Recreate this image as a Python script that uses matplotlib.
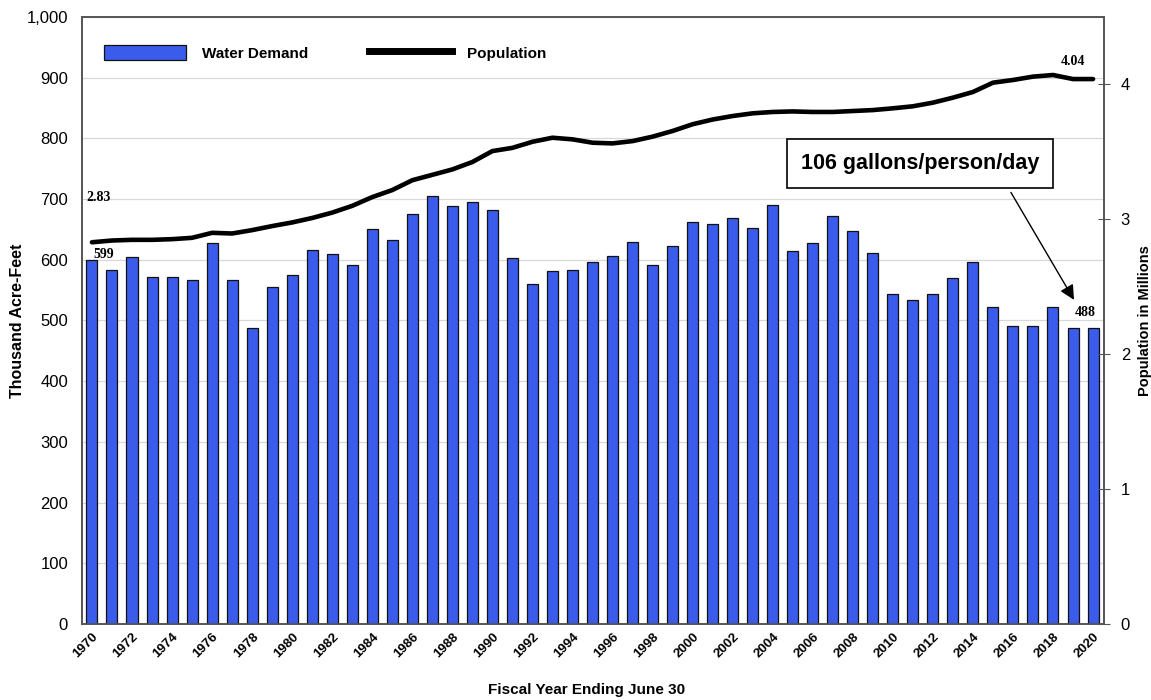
import matplotlib
matplotlib.use("Agg")
import matplotlib.pyplot as plt
import numpy as np
from matplotlib.patches import Patch
from matplotlib.lines import Line2D
from matplotlib.ticker import FuncFormatter, MultipleLocator

years = list(range(1970, 2021))
water_demand = [599, 584, 605, 572, 571, 567, 627, 566, 488, 555,
                575, 616, 609, 591, 651, 632, 675, 705, 688, 695,
                682, 603, 560, 582, 583, 596, 606, 629, 591, 622,
                663, 659, 669, 652, 690, 615, 627, 672, 648, 611,
                544, 533, 544, 570, 596, 522, 491, 491, 523, 488,
                488]
population = [2.83, 2.843, 2.848, 2.848, 2.853, 2.863, 2.90, 2.895, 2.92, 2.95,
              2.977, 3.01, 3.05, 3.10, 3.165, 3.217, 3.29, 3.33, 3.37, 3.425,
              3.506, 3.53, 3.575, 3.605, 3.593, 3.568, 3.563, 3.58, 3.613, 3.655,
              3.705, 3.74, 3.766, 3.786, 3.796, 3.80, 3.796, 3.796, 3.803, 3.81,
              3.823, 3.838, 3.865, 3.902, 3.944, 4.013, 4.033, 4.058, 4.07, 4.04,
              4.04]
tick_years = [str(y) for y in range(1970, 2021, 2)]

SANS = ['Liberation Sans', 'DejaVu Sans']
SERIF = ['Liberation Serif', 'DejaVu Serif']
plt.rcParams['font.family'] = SANS

fig = plt.figure(figsize=(11.51, 7.0), dpi=100)
ax = fig.add_axes([0.0712, 0.1086, 0.8880, 0.8671])
x = np.arange(len(years))

ax.bar(x, water_demand, width=0.55, color='#3B5BEA', edgecolor='#111111', linewidth=0.9, zorder=3)
ax.set_xlim(-0.5, len(years) - 0.45)
ax.set_ylim(0, 1000)
ax.yaxis.set_major_locator(MultipleLocator(100))
ax.yaxis.set_major_formatter(FuncFormatter(lambda v, p: f"{int(v):,}"))
ax.grid(axis='y', color='#d8d8d8', linewidth=0.9, zorder=0)
ax.set_axisbelow(True)
ax.set_xticks(x[::2])
ax.set_xticklabels(tick_years, rotation=45, ha='right', rotation_mode='anchor',
                   fontsize=9.5, fontweight='bold')
ax.set_xticks(x, minor=True)
ax.tick_params(axis='x', which='both', direction='in', length=3, color='#888888', pad=5)
ax.tick_params(axis='y', labelsize=12, length=0, pad=10)
for s in ax.spines.values():
    s.set_color('#555555')
    s.set_linewidth(1.2)
ax.set_ylabel('Thousand Acre-Feet', fontsize=11.5, fontweight='bold')
ax.yaxis.set_label_coords(-0.0558, 0.5)
ax.set_xlabel('Fiscal Year Ending June 30', fontsize=11, fontweight='bold')
ax.xaxis.set_label_coords(0.494, -0.097)

ax2 = ax.twinx()
ax2.plot(x, population, color='black', linewidth=3.3, solid_capstyle='round', zorder=4)
ax2.set_ylim(0, 4.5)
ax2.set_yticks([0, 1, 2, 3, 4])
ax2.tick_params(axis='y', labelsize=12, direction='inout', length=8, color='#555555', pad=8)
ax2.set_ylabel('Population in Millions', fontsize=10.5, fontweight='bold')
ax2.yaxis.set_label_coords(1.0335, 0.5)
for s in ax2.spines.values():
    s.set_color('#555555')
    s.set_linewidth(1.2)

# value labels
ax2.text(x[0] - 0.3, population[0] + 0.33, '2.83', family=SERIF, fontweight='bold', fontsize=10, va='center')
ax.text(x[0] + 0.05, water_demand[0] + 9, '599', family=SERIF, fontweight='bold', fontsize=10, va='center')
ax2.text(x[-2] - 0.6, population[-2] + 0.13, '4.04', family=SERIF, fontweight='bold', fontsize=10, va='center')
ax.text(x[-2] + 0.1, water_demand[-2] + 25, '488', family=SERIF, fontweight='bold', fontsize=10, va='center')

# annotation box and arrow
ax.text(41.37, 759, '106 gallons/person/day', ha='center', va='center',
        fontsize=15.5, fontweight='bold', zorder=6,
        bbox=dict(boxstyle='square,pad=0.65', fc='white', ec='black', lw=1.2))
ax.annotate('', xy=(49.05, 534), xytext=(45.9, 711),
            arrowprops=dict(arrowstyle='-|>', color='black', lw=1, mutation_scale=22,
                            shrinkA=0, shrinkB=0), zorder=6)

handles = [Patch(facecolor='#3B5BEA', edgecolor='#111111', linewidth=0.9),
           Line2D([0], [0], color='black', linewidth=5)]
leg = ax.legend(handles, ['Water Demand', 'Population'], loc='upper left', ncol=2,
                frameon=False, prop={'weight': 'bold', 'size': 11},
                handlelength=5.4, handleheight=1.2, handletextpad=1.0, columnspacing=4.0,
                bbox_to_anchor=(0.008, 0.977))

fig.savefig('out.png', dpi=100)
